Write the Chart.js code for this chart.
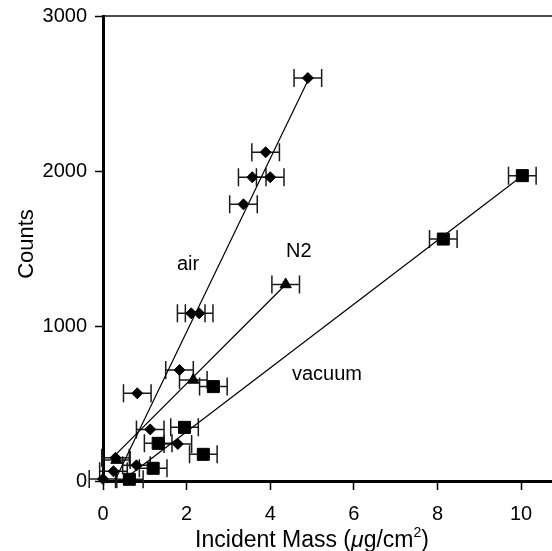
<!DOCTYPE html>
<html lang="en">
<head>
<meta charset="UTF-8">
<title>Counts vs Incident Mass</title>
<script src="https://cdn.jsdelivr.net/npm/chart.js@4.4.1/dist/chart.umd.min.js"></script>
<style>
    html, body { margin: 0; padding: 0; background: #fff; }
    canvas { display: block; }
</style>
</head>
<body>
<canvas id="graphMasse" width="552" height="551"></canvas>
<script>
// air (diamonds)
const airX   = [0.00, 0.25, 0.30, 0.80, 0.82, 1.13, 1.79, 1.83, 2.11, 2.30, 3.36, 3.57, 4.00, 3.89, 4.90];
const airY   = [13, 63, 150, 101, 566, 333, 239, 716, 1082, 1082, 1785, 1960, 1960, 2121, 2600];
const airErr = [0.33, 0.33, 0.33, 0.33, 0.33, 0.33, 0.33, 0.33, 0.33, 0.33, 0.33, 0.33, 0.33, 0.33, 0.33];

// N2 (triangles)
const n2X   = [0.32, 2.16, 4.37];
const n2Y   = [135, 652, 1268];
const n2Err = [0.33, 0.33, 0.33];

// vacuum (squares)
const vacX   = [0.63, 1.20, 1.32, 1.95, 2.40, 2.64, 8.14, 10.03];
const vacY   = [11, 82, 243, 346, 172, 609, 1561, 1970];
const vacErr = [0.33, 0.33, 0.33, 0.33, 0.33, 0.33, 0.33, 0.33];

// fitted lines (end points)
const airFitX = [0.28, 4.93];
const airFitY = [0, 2600];
const n2FitX  = [0.29, 4.37];
const n2FitY  = [167, 1268];
const vacFitX = [0.50, 10.03];
const vacFitY = [10, 1970];

// labels written inside the plot
const labelTexts = ['air', 'N2', 'vacuum'];
const labelX     = [1.77, 4.38, 4.52];
const labelY     = [1361, 1447, 652];

const xTicks = [0, 2, 4, 6, 8, 10];
const yTicks = [0, 1000, 2000, 3000];

const FONT = "'Liberation Sans', Arial, sans-serif";

function points(xs, ys) {
    return xs.map((x, i) => ({ x: x, y: ys[i] }));
}

const series = [
    { x: airX, y: airY, err: airErr },
    { x: n2X,  y: n2Y,  err: n2Err },
    { x: vacX, y: vacY, err: vacErr }
];

// horizontal error bars with caps
const barresErreur = {
    id: 'barresErreur',
    beforeDatasetsDraw(chart) {
        const ctx = chart.ctx, sx = chart.scales.x, sy = chart.scales.y;
        ctx.save();
        ctx.strokeStyle = '#1a1a1a';
        ctx.lineWidth = 1.5;
        series.forEach(s => {
            s.x.forEach((xv, i) => {
                const y = sy.getPixelForValue(s.y[i]);
                const x1 = sx.getPixelForValue(xv - s.err[i]);
                const x2 = sx.getPixelForValue(xv + s.err[i]);
                ctx.beginPath();
                ctx.moveTo(x1, y); ctx.lineTo(x2, y);
                ctx.moveTo(x1, y - 9); ctx.lineTo(x1, y + 9);
                ctx.moveTo(x2, y - 9); ctx.lineTo(x2, y + 9);
                ctx.stroke();
            });
        });
        ctx.restore();
    }
};

// top frame line, axis titles and in-plot labels
const decor = {
    id: 'decor',
    afterDraw(chart) {
        const ctx = chart.ctx, a = chart.chartArea;
        const sx = chart.scales.x, sy = chart.scales.y;
        ctx.save();
        ctx.strokeStyle = '#111';
        ctx.lineWidth = 1.5;
        ctx.beginPath();
        ctx.moveTo(a.left, a.top);
        ctx.lineTo(a.right, a.top);
        ctx.stroke();

        ctx.fillStyle = '#000';
        ctx.textBaseline = 'alphabetic';
        ctx.textAlign = 'left';
        ctx.font = '20px ' + FONT;
        labelTexts.forEach((t, i) => {
            ctx.fillText(t, sx.getPixelForValue(labelX[i]), sy.getPixelForValue(labelY[i]));
        });

        // x title with italic mu and superscript 2
        const segs = [
            { t: 'Incident Mass (', f: '23px ' + FONT, dy: 0 },
            { t: '\u03bc', f: 'italic 23px ' + FONT, dy: 0 },
            { t: 'g/cm', f: '23px ' + FONT, dy: 0 },
            { t: '2', f: '14px ' + FONT, dy: -10 },
            { t: ')', f: '23px ' + FONT, dy: 0 }
        ];
        let w = 0;
        segs.forEach(s => { ctx.font = s.f; s.w = ctx.measureText(s.t).width; w += s.w; });
        let x = 312 - w / 2;
        segs.forEach(s => {
            ctx.font = s.f;
            ctx.fillText(s.t, x, 547 + s.dy);
            x += s.w;
        });

        ctx.translate(33, 244);
        ctx.rotate(-Math.PI / 2);
        ctx.textAlign = 'center';
        ctx.font = '22px ' + FONT;
        ctx.fillText('Counts', 0, 0);
        ctx.restore();
    }
};

const marker = { borderColor: '#000', backgroundColor: '#000', borderWidth: 1, showLine: false, clip: false, order: 0 };
const fit = { borderColor: '#000', borderWidth: 1.2, pointRadius: 0, showLine: true, fill: false, order: 1 };

const ctx = document.getElementById('graphMasse').getContext('2d');
new Chart(ctx, {
    type: 'scatter',
    data: {
        datasets: [
            Object.assign({ label: 'air', data: points(airX, airY), pointStyle: 'rectRot', pointRadius: 5.5 }, marker),
            Object.assign({ label: 'N2', data: points(n2X, n2Y), pointStyle: 'triangle', pointRadius: 6.5 }, marker),
            Object.assign({ label: 'vacuum', data: points(vacX, vacY), pointStyle: 'rect', pointRadius: 8.5 }, marker),
            Object.assign({ label: 'air fit', data: points(airFitX, airFitY) }, fit),
            Object.assign({ label: 'N2 fit', data: points(n2FitX, n2FitY) }, fit),
            Object.assign({ label: 'vacuum fit', data: points(vacFitX, vacFitY) }, fit)
        ]
    },
    options: {
        responsive: false,
        animation: false,
        devicePixelRatio: 1,
        layout: { autoPadding: false, padding: { top: 16, right: 0, bottom: 0, left: 0 } },
        plugins: { legend: { display: false }, tooltip: { enabled: false } },
        scales: {
            x: {
                type: 'linear',
                min: 0,
                max: 10.74,
                afterFit: s => { s.height = 70; s.paddingLeft = 0; s.paddingRight = 0; },
                afterBuildTicks: s => { s.ticks = xTicks.map(v => ({ value: v })); },
                ticks: { color: '#000', font: { family: FONT, size: 20 }, padding: 12, maxRotation: 0, callback: v => String(v) },
                grid: { drawOnChartArea: false, drawTicks: true, tickLength: 9, tickColor: '#000', tickWidth: 1.5 },
                border: { display: true, color: '#000', width: 3 }
            },
            y: {
                min: 0,
                max: 3000,
                afterFit: s => { s.width = 103; s.paddingTop = 0; s.paddingBottom = 0; },
                afterBuildTicks: s => { s.ticks = yTicks.map(v => ({ value: v })); },
                ticks: { color: '#000', font: { family: FONT, size: 20 }, padding: 8, callback: v => String(v) },
                grid: { drawOnChartArea: false, drawTicks: true, tickLength: 8, tickColor: '#000', tickWidth: 1.5 },
                border: { display: true, color: '#000', width: 3 }
            }
        }
    },
    plugins: [barresErreur, decor]
});
</script>
</body>
</html>
